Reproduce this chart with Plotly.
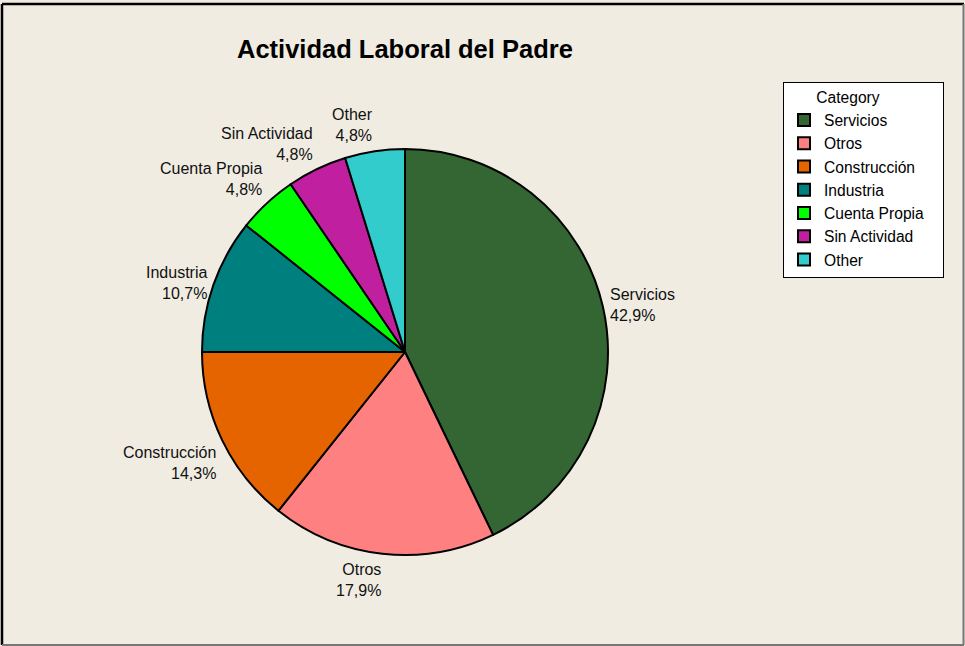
import math
import plotly.graph_objects as go

# ---- data ----
categories = ["Servicios", "Otros", "Construcción", "Industria",
              "Cuenta Propia", "Sin Actividad", "Other"]
counts = [36, 15, 12, 9, 4, 4, 4]
colors = ["#336633", "#FF8080", "#E66400", "#007F7F",
          "#00FF00", "#C020A0", "#33CCCC"]
title_text = "Actividad Laboral del Padre"
legend_title = "Category"

# ---- layout geometry (pixels) ----
W, H = 965, 646
CX, CY, R = 405, 352, 203
FONT = "Liberation Sans, Arial, sans-serif"

fig = go.Figure()
fig.add_trace(go.Pie(
    labels=categories,
    values=counts,
    sort=False,
    direction="clockwise",
    rotation=0,
    marker=dict(colors=colors, line=dict(color="black", width=2)),
    textinfo="none",
    hoverinfo="label+percent",
    domain=dict(x=[(CX - R) / W, (CX + R) / W],
                y=[(H - CY - R) / H, (H - CY + R) / H]),
))

# outside labels computed from the data
total = sum(counts)
annotations = []
cum = 0.0
for lab, v in zip(categories, counts):
    frac = v / total
    mid = cum + frac / 2
    cum += frac
    ang = math.radians(90 - 360 * mid)
    rr = R + 6
    px = CX + rr * math.cos(ang)
    py = CY - rr * math.sin(ang)
    c, s = math.cos(ang), math.sin(ang)
    xa = "left" if c > 0 else "right"
    if s > 0.4:
        ya = "bottom"
    elif s < -0.4:
        ya = "top"
    else:
        ya = "middle"
    pct = f"{100 * frac:.1f}".replace(".", ",") + "%"
    annotations.append(dict(
        x=px / W, y=1 - py / H, xref="paper", yref="paper",
        text=f"{lab}<br>{pct}", showarrow=False,
        xanchor=xa, yanchor=ya, align="right" if xa == "right" else "left",
        font=dict(family=FONT, size=16, color="#111111"),
        borderpad=0,
    ))

annotations.append(dict(
    x=404.5 / W, y=1 - 49 / H, xref="paper", yref="paper",
    text=f"<b>{title_text}</b>", showarrow=False,
    xanchor="center", yanchor="middle",
    font=dict(family=FONT, size=25.5, color="black"),
))

shapes = [
    dict(type="line", xref="paper", yref="paper",
         x0=2 / W, x1=2 / W, y0=1 - 4 / H, y1=1 - 645 / H,
         line=dict(color="black", width=2.5)),
    dict(type="line", xref="paper", yref="paper",
         x0=2 / W, x1=964 / W, y0=1 - 4 / H, y1=1 - 4 / H,
         line=dict(color="black", width=2.5)),
    dict(type="line", xref="paper", yref="paper",
         x0=963.5 / W, x1=963.5 / W, y0=1 - 4 / H, y1=1 - 645 / H,
         line=dict(color="#777777", width=2)),
    dict(type="line", xref="paper", yref="paper",
         x0=2 / W, x1=964 / W, y0=1 - 645 / H, y1=1 - 645 / H,
         line=dict(color="#777777", width=2)),
]

pad_l = "&nbsp;" * 7
pad_r = "&nbsp;" * 14

fig.update_layout(
    width=W, height=H,
    margin=dict(l=0, r=0, t=0, b=0),
    paper_bgcolor="#F0ECE2",
    plot_bgcolor="#F0ECE2",
    showlegend=True,
    legend=dict(
        x=783 / W, y=1 - 82 / H, xanchor="left", yanchor="top",
        bgcolor="white", bordercolor="black", borderwidth=1,
        font=dict(family=FONT, size=15.6, color="black"),
        title=dict(text=pad_l + legend_title + pad_r,
                   font=dict(family=FONT, size=15.6, color="black")),
        traceorder="normal",
    ),
    annotations=annotations,
    shapes=shapes,
)

fig.write_html(
    "out.html",
    config={"displayModeBar": False},
    post_script="document.body.style.margin='0';document.body.style.padding='0';"
                "document.documentElement.style.background='#F0ECE2';",
)
